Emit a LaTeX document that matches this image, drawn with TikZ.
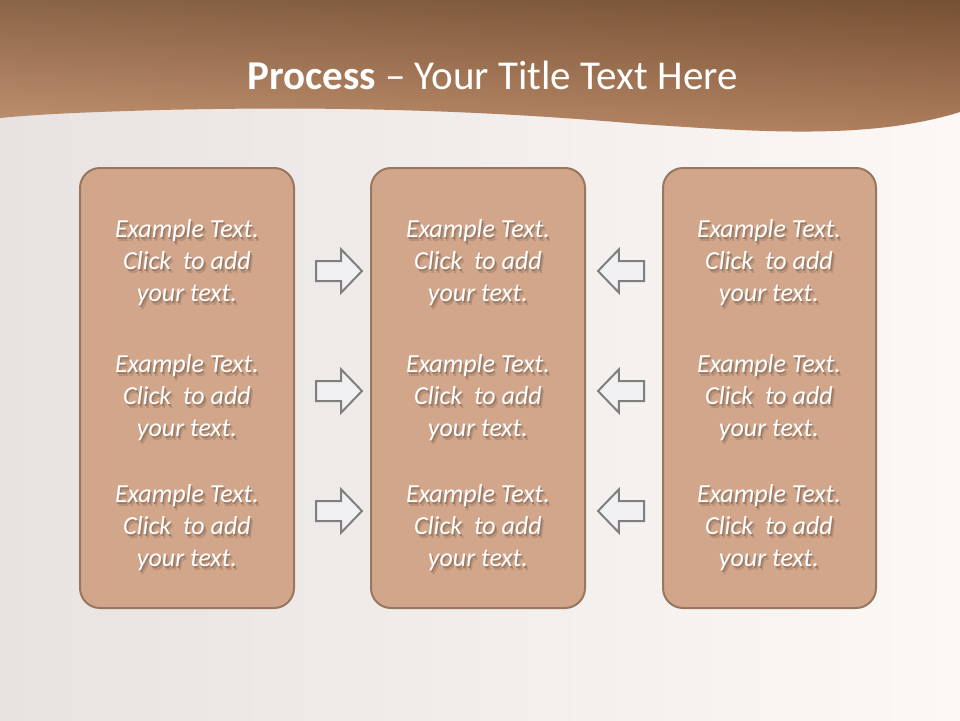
\documentclass[tikz,border=0pt]{standalone}
\usepackage{fontspec}
\setmainfont{Carlito}
\usetikzlibrary{shapes.arrows,shadings}
\definecolor{boxfill}{HTML}{D2A68A}
\definecolor{boxline}{HTML}{987760}
\definecolor{arrfill}{HTML}{F1F1F3}
\definecolor{arrline}{HTML}{7F7F7F}
\definecolor{hdtop}{HTML}{815838}
\definecolor{hdbot}{HTML}{BE8A66}
\definecolor{bgleft}{HTML}{E8E3E0}
\definecolor{bgmid}{HTML}{F4EFEB}
\definecolor{bgright}{HTML}{FCF8F5}
\colorlet{shadowa}{boxfill!74!black}
\colorlet{shadowb}{boxfill!87!black}
\newcommand{\shd}[1]{\leavevmode\rlap{\kern2.6pt\raisebox{-3.6pt}[0pt][0pt]{\textcolor{shadowb}{#1}}}\rlap{\kern1.4pt\raisebox{-2pt}[0pt][0pt]{\textcolor{shadowa}{#1}}}#1}
\tikzset{
  panel/.style={draw=boxline, line width=2pt, fill=boxfill, rounded corners=20pt},
  flowarrow/.style={single arrow, draw=arrline, line width=2pt, fill=arrfill,
    minimum height=46pt, inner sep=9pt, single arrow head extend=11.5pt,
    single arrow tip angle=92, anchor=tail},
  itemtext/.style={align=center, text=white, font=\fontsize{26}{32}\selectfont\itshape, inner sep=0pt},
}
\newcommand{\itemlines}{\shd{Example Text.}\\\shd{Click~ to add}\\\shd{your text.}}
\begin{document}
\begin{tikzpicture}[x=1pt,y=-1pt]
\useasboundingbox (0,0) rectangle (960,720);
% background
\shade[left color=bgleft, middle color=bgmid, right color=bgright] (0,0) rectangle (960,720);
% header
\begin{scope}
\clip (0,0) -- (960,0) -- (960,112) .. controls (870,140) and (760,132) .. (640,124)
  .. controls (480,110) and (330,106) .. (160,110) .. controls (90,112) and (40,114) .. (0,118) -- cycle;
\shade[top color=hdtop, bottom color=hdbot] (0,0) rectangle (960,135);
\shade[left color=white, right color=black, opacity=0.08] (0,0) rectangle (960,135);
\end{scope}
\node[text=white, font=\fontsize{41}{48}\selectfont, inner sep=0pt] (title) at (492.5,75)
  {\textbf{Process} – Your Title Text Here};
% panels
\node[panel, minimum width=214pt, minimum height=440pt] (p1) at (187,388) {};
\node[panel, minimum width=214pt, minimum height=440pt] (p2) at (478,388) {};
\node[panel, minimum width=213pt, minimum height=440pt] (p3) at (769.5,388) {};
% texts
\foreach \c/\x in {a/187,b/478,c/769}{
  \foreach \r/\y in {1/262.5,2/397.5,3/527.5}{
    \node[itemtext] (t\c\r) at (\x,\y) {\itemlines};
  }
}
% arrows
\node[flowarrow] (ra1) at (315,271) {};
\node[flowarrow] (ra2) at (315,391) {};
\node[flowarrow] (ra3) at (315,511) {};
\node[flowarrow, shape border rotate=180] (la1) at (645,271) {};
\node[flowarrow, shape border rotate=180] (la2) at (645,391) {};
\node[flowarrow, shape border rotate=180] (la3) at (645,511) {};
\end{tikzpicture}
\end{document}
